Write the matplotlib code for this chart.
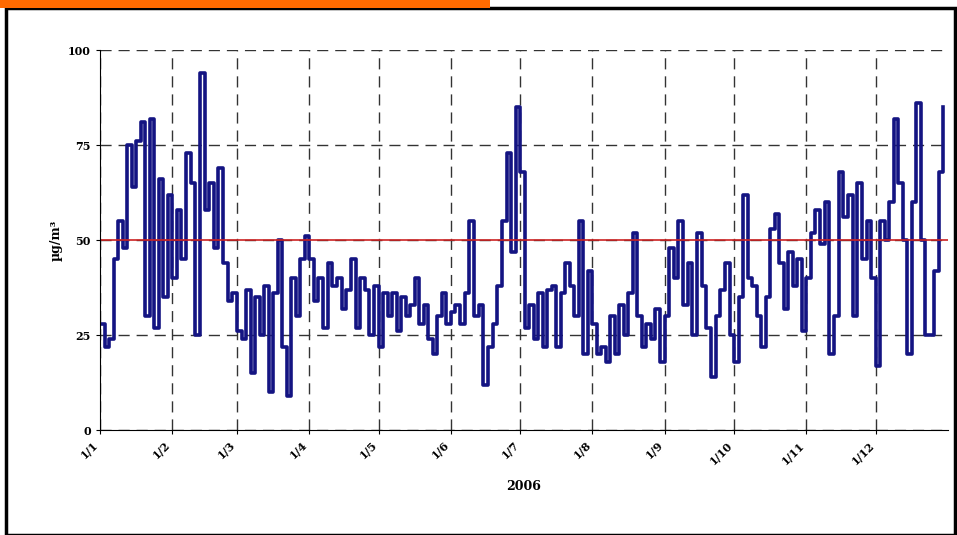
import numpy as np
import matplotlib.pyplot as plt
from matplotlib.patches import Rectangle

month_labels = ["1/1", "1/2", "1/3", "1/4", "1/5", "1/6", "1/7", "1/8", "1/9", "1/10", "1/11", "1/12"]
month_days = [31, 28, 31, 30, 31, 30, 31, 31, 30, 31, 30, 31]

# approximate readings (roughly every second day), one list per month
jan = [28, 22, 24, 45, 55, 48, 75, 64, 76, 81, 30, 82, 27, 66, 35, 62]
feb = [40, 58, 45, 73, 65, 25, 94, 58, 65, 48, 69, 44, 34, 36]
mar = [26, 24, 37, 15, 35, 25, 38, 10, 36, 50, 22, 9, 40, 30, 45, 51]
apr = [45, 34, 40, 27, 44, 38, 40, 32, 37, 45, 27, 40, 37, 25, 38]
may = [22, 36, 30, 36, 26, 35, 30, 33, 40, 28, 33, 24, 20, 30, 36, 28]
jun = [31, 33, 28, 36, 55, 30, 33, 12, 22, 28, 38, 55, 73, 47, 85]
jul = [68, 27, 33, 24, 36, 22, 37, 38, 22, 36, 44, 38, 30, 55, 20, 42]
aug = [28, 20, 22, 18, 30, 20, 33, 25, 36, 52, 30, 22, 28, 24, 32, 18]
sep = [30, 48, 40, 55, 33, 44, 25, 52, 38, 27, 14, 30, 37, 44, 25]
oct_ = [18, 35, 62, 40, 38, 30, 22, 35, 53, 57, 44, 32, 47, 38, 45, 26]
nov = [40, 52, 58, 49, 60, 20, 30, 68, 56, 62, 30, 65, 45, 55, 40]
dec = [17, 55, 50, 60, 82, 65, 50, 20, 60, 86, 50, 25, 25, 42, 68, 85]
months = [jan, feb, mar, apr, may, jun, jul, aug, sep, oct_, nov, dec]

limit = 50

starts = np.concatenate([[0], np.cumsum(month_days)[:-1]])
xs, ys = [], []
for s, d, vals in zip(starts, month_days, months):
    xs.extend(s + np.arange(len(vals)) * d / len(vals))
    ys.extend(vals)

fig = plt.figure(figsize=(9.57, 5.35), dpi=100)
ax = fig.add_axes([0.1045, 0.196, 0.886, 0.71])
ax.plot(xs, ys, drawstyle="steps-post", color="#141482", lw=2.6)
ax.axhline(limit, color="#cc2222", lw=1.2)

ax.set_xlim(0, 365)
ax.set_ylim(0, 100)
ax.set_yticks([0, 25, 50, 75, 100])
ax.set_xticks(starts)
ax.set_xticklabels(month_labels, rotation=45, ha="right", family="serif", fontsize=8, fontweight="bold")
for t in ax.get_yticklabels():
    t.set_family("serif"); t.set_fontsize(8); t.set_fontweight("bold")
ax.grid(True, color="#333333", ls=(0, (8, 5)), lw=1)
for side in ["top", "right"]:
    ax.spines[side].set_visible(False)
ax.tick_params(length=3)
ax.set_ylabel("µg/m³", family="serif", fontsize=9, fontweight="bold")
ax.set_xlabel("2006", family="serif", fontsize=9, fontweight="bold", labelpad=10)

fig.patches.append(Rectangle((0.006, 0.0), 0.992, 0.985, transform=fig.transFigure,
                             fill=False, edgecolor="black", lw=2.5))
fig.patches.append(Rectangle((0.0, 0.985), 0.512, 0.015, transform=fig.transFigure,
                             color="#ff6a00", lw=0))

fig.savefig("out.png", dpi=100)
